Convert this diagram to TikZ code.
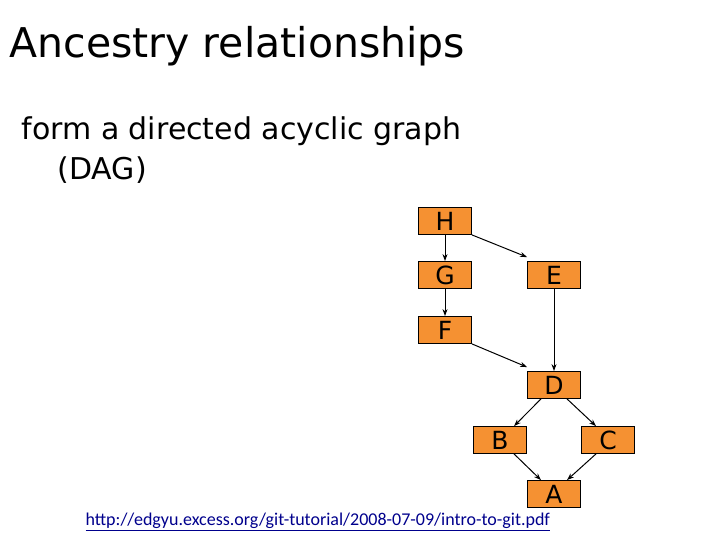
\documentclass[tikz,border=0pt]{standalone}
\usepackage{fontspec}
\usetikzlibrary{arrows.meta}
\setmainfont{DejaVu Sans}
\newfontfamily\linkfont{Carlito}
\definecolor{boxor}{RGB}{245,145,50}
\definecolor{linkblue}{RGB}{0,0,140}
\begin{document}
\begin{tikzpicture}[x=1pt,y=-1pt,
  cbox/.style={draw=black,line width=0.8pt,fill=boxor,minimum width=53pt,minimum height=27pt,inner sep=0pt,font=\fontsize{25}{25}\selectfont},
  arr/.style={-{Stealth[length=7pt,width=5pt]},line width=1pt}]
\useasboundingbox (0,0) rectangle (720,540);
\node[anchor=west,font=\fontsize{41}{46}\selectfont] (title) at (6,46) {Ancestry relationships};
\node[anchor=north west,align=left,font=\fontsize{30}{40}\selectfont] (body) at (18,113) {form a directed acyclic graph\\\hspace{1.2em}(DAG)};
\node[cbox] (H) at (445,221) {H};
\node[cbox] (G) at (445,275) {G};
\node[cbox] (E) at (554,275) {E};
\node[cbox] (F) at (445,330) {F};
\node[cbox] (D) at (554,385) {D};
\node[cbox] (B) at (500,440) {B};
\node[cbox] (C) at (608,440) {C};
\node[cbox] (A) at (554,494) {A};
\draw[arr] (H.south) -- (G.north);
\draw[arr] (G.south) -- (F.north);
\draw[arr] (H.south east) -- ([yshift=4pt]E.north west);
\draw[arr] (E.south) -- (D.north);
\draw[arr] (F.south east) -- ([yshift=4pt]D.north west);
\draw[arr] ([xshift=-13pt]D.south) -- ([xshift=14pt]B.north);
\draw[arr] ([xshift=13pt]D.south) -- ([xshift=-12pt]C.north);
\draw[arr] ([xshift=14pt]B.south) -- ([xshift=-13pt]A.north);
\draw[arr] ([xshift=-12pt]C.south) -- ([xshift=13pt]A.north);
\node[anchor=west,text=linkblue,font=\linkfont\fontsize{18}{20}\selectfont] (link) at (82,522) {\underline{http://edgyu.excess.org/git-tutorial/2008-07-09/intro-to-git.pdf}};
\end{tikzpicture}
\end{document}
